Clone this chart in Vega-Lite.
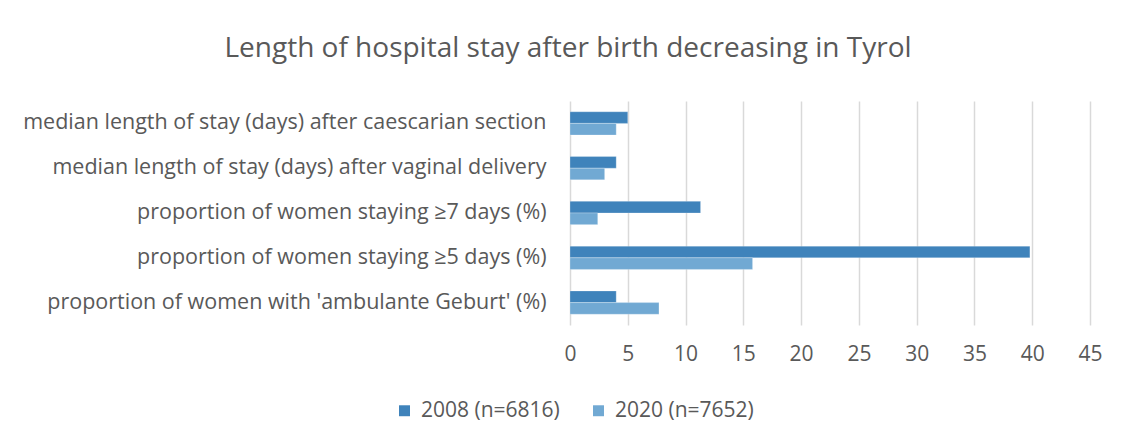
{
  "$schema": "https://vega.github.io/schema/vega-lite/v6.json",
  "width": 520,
  "height": 224,
  "autosize": {"type": "none"},
  "padding": {"left": 570, "top": 101, "right": 36, "bottom": 122},
  "background": "white",
  "title": {
    "text": "Length of hospital stay after birth decreasing in Tyrol",
    "anchor": "middle",
    "frame": "group",
    "dx": -262,
    "offset": 38,
    "font": "Open Sans",
    "fontSize": 28,
    "fontWeight": "normal",
    "color": "#595959"
  },
  "data": {
    "values": [
      {"measure": "median length of stay (days) after caescarian section", "year": "2008 (n=6816)", "value": 5},
      {"measure": "median length of stay (days) after caescarian section", "year": "2020 (n=7652)", "value": 4},
      {"measure": "median length of stay (days) after vaginal delivery", "year": "2008 (n=6816)", "value": 4},
      {"measure": "median length of stay (days) after vaginal delivery", "year": "2020 (n=7652)", "value": 3},
      {"measure": "proportion of women staying ≥7 days (%)", "year": "2008 (n=6816)", "value": 11.3},
      {"measure": "proportion of women staying ≥7 days (%)", "year": "2020 (n=7652)", "value": 2.4},
      {"measure": "proportion of women staying ≥5 days (%)", "year": "2008 (n=6816)", "value": 39.8},
      {"measure": "proportion of women staying ≥5 days (%)", "year": "2020 (n=7652)", "value": 15.8},
      {"measure": "proportion of women with 'ambulante Geburt' (%)", "year": "2008 (n=6816)", "value": 4},
      {"measure": "proportion of women with 'ambulante Geburt' (%)", "year": "2020 (n=7652)", "value": 7.7}
    ]
  },
  "mark": {"type": "bar", "stroke": "white", "strokeWidth": 0.5, "strokeOpacity": 0.5},
  "encoding": {
    "y": {
      "field": "measure",
      "type": "nominal",
      "sort": null,
      "scale": {"paddingInner": 0.48, "paddingOuter": 0.24},
      "axis": {
        "title": null,
        "domain": false,
        "ticks": false,
        "grid": false,
        "labelPadding": 24,
        "labelFont": "Open Sans",
        "labelFontSize": 21.5,
        "labelColor": "#595959",
        "labelLimit": 700
      }
    },
    "yOffset": {
      "field": "year",
      "type": "nominal",
      "sort": ["2008 (n=6816)", "2020 (n=7652)"],
      "scale": {"paddingInner": 0, "paddingOuter": 0}
    },
    "x": {
      "field": "value",
      "type": "quantitative",
      "scale": {"domain": [0, 45], "nice": false},
      "axis": {
        "title": null,
        "values": [0, 5, 10, 15, 20, 25, 30, 35, 40, 45],
        "domain": false,
        "ticks": false,
        "grid": true,
        "gridColor": "#d9d9d9",
        "gridWidth": 1.5,
        "labelPadding": 18,
        "labelFont": "Open Sans",
        "labelFontSize": 21,
        "labelColor": "#595959",
        "labelFlush": false
      }
    },
    "color": {
      "field": "year",
      "type": "nominal",
      "scale": {"domain": ["2008 (n=6816)", "2020 (n=7652)"], "range": ["#3f83bb", "#71a9d3"]},
      "legend": {
        "title": null,
        "orient": "none",
        "direction": "horizontal",
        "legendX": -176,
        "legendY": 299,
        "symbolType": "square",
        "symbolSize": 120,
        "symbolStrokeWidth": 0,
        "labelFont": "Open Sans",
        "labelFontSize": 21,
        "labelColor": "#595959",
        "columnPadding": 28,
        "labelOffset": 6
      }
    }
  },
  "config": {"view": {"stroke": null}}
}
